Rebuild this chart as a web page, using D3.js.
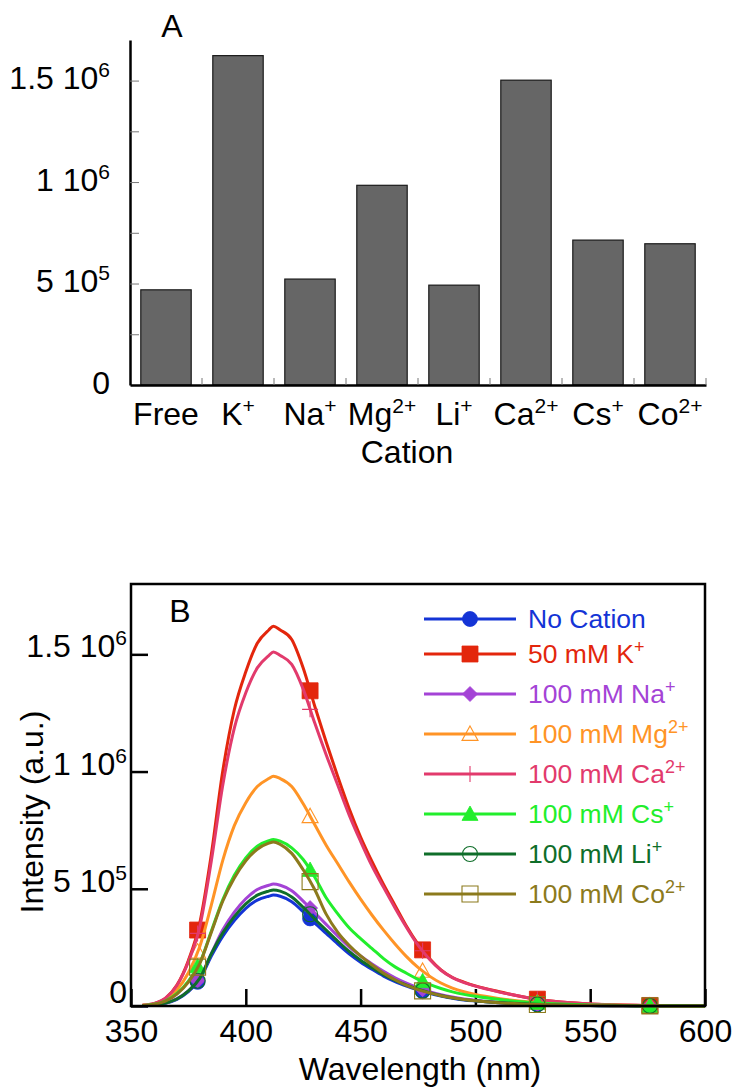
<!DOCTYPE html>
<html><head><meta charset="utf-8">
<script src="https://cdn.jsdelivr.net/npm/d3@7"></script>
<style>
html,body{margin:0;padding:0;background:#fff;}
svg{display:block;}
</style></head><body>
<svg id="chart" width="734" height="1088"></svg>
<script>
// ---------- Panel A data ----------
const cations = ["Free","K","Na","Mg","Li","Ca","Cs","Co"];
const cationCharges = ["","+","+","2+","+","2+","+","2+"];
const peakIntensity = [469000,1623000,522000,984000,492000,1502000,714000,696000];
const yTicksA = [0,250000,500000,750000,1000000,1250000,1500000];
const yTickLabelsA = {0:["0",""],500000:["5 10","5"],1000000:["1 10","6"],1500000:["1.5 10","6"]};

// ---------- Panel B data ----------
const wavelengths = [355,360,365,370,375,380,385,390,395,400,405,410,412,415,420,425,430,435,440,445,450,455,460,465,470,475,480,485,490,495,500,510,520,530,540,550,560,570,580,590,600];
const noCation = [900,3800,11800,28400,61500,113500,212900,298000,364200,416200,451700,468300,473000,468300,444600,402100,354800,309800,264900,222300,186800,156100,127700,104100,85100,68600,54400,42600,33100,26000,21300,14200,9500,5700,3300,1900,900,500,500,0,0];
const k50 = [3200,9700,32400,89100,194400,356400,648000,1004400,1263600,1425600,1547100,1603800,1620000,1603800,1563300,1441800,1279800,1125900,980100,842400,720900,615600,518400,429300,340200,264100,202500,153900,121500,102100,85900,61600,40500,24300,14600,8100,4900,3200,1600,1600,0];
const na100 = [1000,4200,12500,31200,65000,119600,223600,325000,400400,457600,496600,514800,520000,514800,491400,447200,397800,348400,299000,252200,213200,179400,148200,120600,97800,78000,61400,48400,38000,30200,24400,16100,10400,6200,3600,2100,1000,500,500,0,0];
const mg100 = [2900,8800,27400,68600,142100,254800,431200,622300,769300,867300,935900,970200,980000,970200,935900,862400,774200,686000,607600,529200,455700,387100,323400,264600,210700,164600,127400,98000,76400,60800,49000,32300,20600,12700,7800,4900,2900,2000,1000,1000,0];
const ca100 = [3000,10600,33200,87600,188800,339800,619100,943800,1185400,1336400,1442100,1494900,1510000,1494900,1457200,1351500,1208000,1072100,943800,815400,702200,596500,505900,418300,335200,259700,199300,152500,120800,99700,84600,60400,40800,24200,15100,9100,4500,3000,1500,1500,0];
const cs100 = [2100,7100,21300,53300,106500,184600,319500,454400,557400,631900,681600,705000,710000,702900,674500,624800,550300,461500,394100,333700,287600,245000,202400,166900,139900,113600,92300,74600,60400,49700,41200,28400,18500,11400,7100,4300,2800,1400,700,700,0];
const li100 = [1000,4000,12400,29700,64400,118800,222800,311900,381200,435600,472700,490100,495000,490100,465300,420800,371300,324200,277200,232700,195500,163400,133700,108900,89100,71800,56900,44600,34700,27200,22300,14900,9900,5900,3500,2000,1000,500,500,0,0];
const co100 = [2100,7000,21000,50400,101500,182000,315000,448000,546000,619500,668500,694400,700000,689500,651000,581000,497000,392000,315000,259000,213500,175000,140000,112000,87500,70000,56000,44100,35000,28000,22400,14000,8400,5600,3500,2100,1400,700,700,0,0];
const markerWavelengths = [379,428,477,527,576];
const seriesNames = [["No Cation",""],["50 mM K","+"],["100 mM Na","+"],["100 mM Mg","2+"],["100 mM Ca","2+"],["100 mM Cs","+"],["100 mM Li","+"],["100 mM Co","2+"]];
const seriesValues = [noCation,k50,na100,mg100,ca100,cs100,li100,co100];
const xTicksB = [350,400,450,500,550,600];
const yTicksB = [0,500000,1000000,1500000];
const yTickLabelsB = {0:["0",""],500000:["5 10","5"],1000000:["1 10","6"],1500000:["1.5 10","6"]};

// ---------- styles ----------
const FONT = '"Liberation Sans", Arial, Helvetica, sans-serif';
const FS = 32, SUP = 21, RAISE = 12;
const seriesStyles = [
  {color:"#1434d6", marker:"circle", filled:true},
  {color:"#e3260c", marker:"square", filled:true},
  {color:"#a443d6", marker:"diamond", filled:true},
  {color:"#ff9426", marker:"triangle", filled:false},
  {color:"#e23a6c", marker:"plus", filled:false},
  {color:"#22ee2c", marker:"triangle", filled:true},
  {color:"#0f6e2a", marker:"circle", filled:false},
  {color:"#8c7a1c", marker:"square", filled:false}
];

const svg = d3.select("#chart").attr("font-family", FONT);

function supText(sel, base, exp, supSize, raise){
  sel.text(null);
  sel.append("tspan").text(base);
  if (exp) sel.append("tspan").attr("font-size", supSize).attr("dy", -raise).text(exp);
}

function markerPath(type, s){
  switch(type){
    case "circle": return d3.symbol(d3.symbolCircle, Math.PI*s*s)();
    case "square": return `M${-s},${-s}H${s}V${s}H${-s}Z`;
    case "diamond": return `M0,${-s}L${s},0L0,${s}L${-s},0Z`;
    case "triangle": return `M0,${-s}L${s},${s*0.8}L${-s},${s*0.8}Z`;
    case "plus": return `M${-s},0H${s}M0,${-s}V${s}`;
  }
}
function markerSize(type){
  return {circle:7.5, square:8, diamond:7.5, triangle:8, plus:8}[type];
}
function applyMarker(sel, st){
  sel.attr("d", markerPath(st.marker, markerSize(st.marker)))
    .attr("fill", st.filled ? st.color : "none")
    .attr("stroke", st.color)
    .attr("stroke-width", st.filled ? 0.8 : 1.1);
}

// ================= Panel A =================
const xA = d3.scaleBand().domain(cations).range([130,706]).paddingInner(0.3).paddingOuter(0.15);
const yA = d3.scaleLinear().domain([0,1700000]).range([385,40]);
const gA = svg.append("g");

gA.selectAll("rect.bar").data(cations).join("rect").attr("class","bar")
  .attr("x", d => xA(d)).attr("width", xA.bandwidth())
  .attr("y", (d,i) => yA(peakIntensity[i]))
  .attr("height", (d,i) => yA(0) - yA(peakIntensity[i]))
  .attr("fill","#666666").attr("stroke","#1a1a1a").attr("stroke-width",1.2);

// y axis
const gYA = gA.append("g").attr("transform","translate(130,0)")
  .call(d3.axisLeft(yA).tickValues(yTicksA).tickSize(-9).tickSizeOuter(0).tickPadding(20).tickFormat(d => yTickLabelsA[d] ? "x" : ""));
gYA.attr("font-family", FONT).attr("font-size", FS);
gYA.select(".domain").attr("stroke","#000").attr("stroke-width",2.5);
gYA.selectAll(".tick line").attr("stroke","#777").attr("stroke-width",1);
gYA.selectAll(".tick text").attr("fill","#000").attr("dy","0.25em").each(function(d){
  const lab = yTickLabelsA[d];
  if (lab) supText(d3.select(this), lab[0], lab[1], SUP, RAISE); else d3.select(this).text("");
});

// x axis
const gXA = gA.append("g").attr("transform","translate(0,385)")
  .call(d3.axisBottom(xA).tickSize(0).tickSizeOuter(0).tickPadding(17));
gXA.attr("font-family", FONT).attr("font-size", FS);
gXA.select(".domain").attr("stroke","#000").attr("stroke-width",2.5);
gXA.selectAll(".tick text").attr("fill","#000").each(function(d,i){
  supText(d3.select(this), d, cationCharges[i], SUP, RAISE);
});
// category boundary ticks
gA.selectAll("line.bt").data(cations).join("line").attr("class","bt")
  .attr("x1", d => xA(d) + xA.bandwidth() + xA.step()*xA.paddingInner()/2)
  .attr("x2", d => xA(d) + xA.bandwidth() + xA.step()*xA.paddingInner()/2)
  .attr("y1", yA(0)).attr("y2", yA(0) - 7)
  .attr("stroke","#777").attr("stroke-width",1);

gA.append("text").attr("x",407).attr("y",463).attr("text-anchor","middle")
  .attr("font-size",FS).text("Cation");
gA.append("text").attr("x",172).attr("y",37).attr("text-anchor","middle")
  .attr("font-size",FS).text("A");

// ================= Panel B =================
const xB = d3.scaleLinear().domain([350,600]).range([131,705]);
const yB = d3.scaleLinear().domain([0,1800000]).range([1006,584]);
const gB = svg.append("g");

const gXB = gB.append("g").attr("transform","translate(0,1006)")
  .call(d3.axisBottom(xB).tickValues(xTicksB).tickSize(-17).tickSizeOuter(0).tickPadding(13).tickFormat(d3.format("d")));
gXB.attr("font-family", FONT).attr("font-size", FS);
gXB.select(".domain").remove();
gXB.selectAll(".tick line").attr("stroke","#000").attr("stroke-width",2.5);
gXB.selectAll(".tick text").attr("fill","#000");

const gYB = gB.append("g").attr("transform","translate(131,0)")
  .call(d3.axisLeft(yB).tickValues(yTicksB).tickSize(-17).tickSizeOuter(0).tickPadding(4).tickFormat(() => "x"));
gYB.attr("font-family", FONT).attr("font-size", FS);
gYB.select(".domain").remove();
gYB.selectAll(".tick line").attr("stroke","#000").attr("stroke-width",2.5);
gYB.selectAll(".tick text").attr("fill","#000").attr("dy", d => d === 0 ? "-0.12em" : "0.08em").each(function(d){
  const lab = yTickLabelsB[d];
  supText(d3.select(this), lab[0], lab[1], SUP, RAISE);
});

// curves
const line = d3.line().x((d,i) => xB(wavelengths[i])).y(d => yB(d)).curve(d3.curveMonotoneX);
function valueAt(vals, w){
  const i = d3.bisectRight(wavelengths, w) - 1;
  const j = Math.min(i+1, wavelengths.length-1);
  if (i === j) return vals[i];
  const t = (w - wavelengths[i])/(wavelengths[j]-wavelengths[i]);
  return vals[i] + t*(vals[j]-vals[i]);
}
seriesValues.forEach((vals, si) => {
  const st = seriesStyles[si];
  const g = gB.append("g");
  g.append("path").datum(vals).attr("d", line)
    .attr("fill","none").attr("stroke", st.color).attr("stroke-width",3)
    .attr("stroke-linejoin","round");
  g.selectAll("path.mk").data(markerWavelengths).join("path").attr("class","mk")
    .attr("transform", w => `translate(${xB(w)},${yB(valueAt(vals,w))})`)
    .call(applyMarker, st);
});

// frame
gB.append("rect").attr("x",xB(350)).attr("y",yB(1800000))
  .attr("width",xB(600)-xB(350)).attr("height",yB(0)-yB(1800000))
  .attr("fill","none").attr("stroke","#000").attr("stroke-width",2.5);

// legend
const legRowY = i => 619 + i*40 - (i > 0 ? 5 : 0);
seriesNames.forEach((nm, i) => {
  const st = seriesStyles[i];
  const y = legRowY(i);
  const lg = gB.append("g");
  lg.append("line").attr("x1",424).attr("x2",516).attr("y1",y).attr("y2",y)
    .attr("stroke", st.color).attr("stroke-width",3);
  lg.append("path").attr("transform",`translate(470,${y})`).call(applyMarker, st);
  const t = lg.append("text").attr("x",528).attr("y",y+9).attr("font-size",26.5).attr("fill",st.color);
  supText(t, nm[0], nm[1], 18, 10);
});

gB.append("text").attr("x",180).attr("y",622).attr("text-anchor","middle").attr("font-size",FS).text("B");
gB.append("text").attr("x",420).attr("y",1080).attr("text-anchor","middle").attr("font-size",FS).text("Wavelength (nm)");
gB.append("text").attr("transform","translate(43,812) rotate(-90)").attr("text-anchor","middle").attr("font-size",FS).text("Intensity (a.u.)");
</script>
</body></html>
